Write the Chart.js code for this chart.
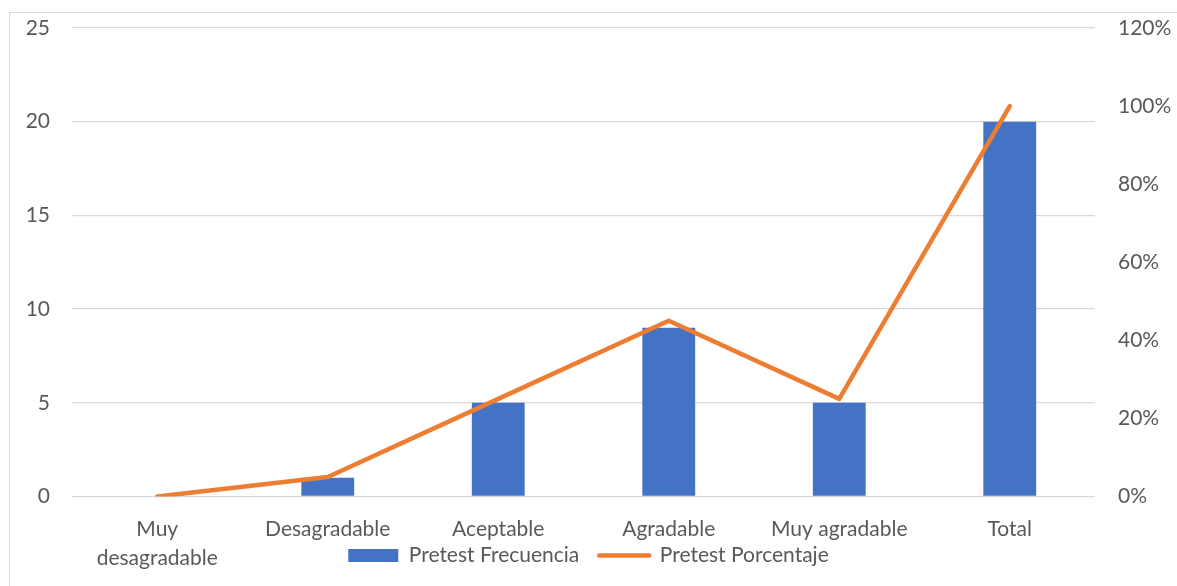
<!DOCTYPE html>
<html lang="es">
<head>
<meta charset="utf-8">
<title>Pretest</title>
<script src="https://cdn.jsdelivr.net/npm/chart.js@4.4.1/dist/chart.umd.min.js"></script>
<style>
  html, body { margin: 0; padding: 0; background: #fff; overflow: hidden; }
  #wrap { position: relative; width: 1177px; height: 586px; }
  #frame { position: absolute; left: 9px; top: 12px; width: 1300px; height: 700px;
           border: 1px solid #d9d9d9; box-sizing: border-box; }
  canvas { position: absolute; left: 0; top: 0; }
</style>
</head>
<body>
<div id="wrap">
  <div id="frame"></div>
  <canvas id="chart" width="1177" height="586"></canvas>
</div>
<script>
// Categories and series
const categories = [['Muy', 'desagradable'], 'Desagradable', 'Aceptable', 'Agradable', 'Muy agradable', 'Total'];
const frecuencia = [0, 1, 5, 9, 5, 20];
const porcentaje = [0, 0.05, 0.25, 0.45, 0.25, 1.00];

// Axis ticks
const leftTicks = [0, 5, 10, 15, 20, 25];
const rightTicks = [0, 0.2, 0.4, 0.6, 0.8, 1.0, 1.2];
const rightTickLabels = ['0%', '20%', '40%', '60%', '80%', '100%', '120%'];

const seriesNames = ['Pretest Frecuencia', 'Pretest Porcentaje'];

const BLUE = '#4472C4';
const ORANGE = '#ED7D31';
const TEXT = '#595959';
const GRID = '#d9d9d9';
const FONT = { family: 'Lato', size: 21 };

// The legend shares the row of the second label line, so it takes no
// layout space and is placed after layout.
const LEGEND_TOP = 525;
const legendOverlay = {
  id: 'legendOverlay',
  afterLayout(chart) {
    const lg = chart.legend;
    if (!lg) return;
    const h = 50;
    lg.top = LEGEND_TOP;
    lg.bottom = LEGEND_TOP + h;
    lg.height = h;
  }
};

// Keep the value axes from pushing the plot area down.
const trimAxisPadding = (axis, width) => {
  axis.width = width;
  axis.paddingTop = 6;
  axis.paddingBottom = 6;
};

new Chart(document.getElementById('chart'), {
  data: {
    labels: categories,
    datasets: [
      {
        type: 'bar',
        label: seriesNames[0],
        data: frecuencia,
        backgroundColor: BLUE,
        yAxisID: 'y',
        order: 1,
        categoryPercentage: 1,
        barPercentage: 0.31
      },
      {
        type: 'line',
        label: seriesNames[1],
        data: porcentaje,
        borderColor: ORANGE,
        backgroundColor: ORANGE,
        borderWidth: 4.5,
        borderCapStyle: 'round',
        borderJoinStyle: 'round',
        pointRadius: 0,
        tension: 0,
        yAxisID: 'y1',
        order: 0
      }
    ]
  },
  plugins: [legendOverlay],
  options: {
    responsive: false,
    animation: false,
    layout: { padding: { top: 28, left: 0, right: 0, bottom: 0 } },
    plugins: {
      tooltip: { enabled: false },
      legend: {
        position: 'bottom',
        maxHeight: 1,
        labels: {
          font: FONT,
          color: TEXT,
          usePointStyle: true,
          pointStyleWidth: 50,
          boxHeight: 13,
          padding: 20,
          generateLabels: () => [
            { text: seriesNames[0], fillStyle: BLUE, strokeStyle: BLUE, lineWidth: 0,
              pointStyle: 'rect', datasetIndex: 0, hidden: false, fontColor: TEXT },
            { text: seriesNames[1], fillStyle: ORANGE, strokeStyle: ORANGE, lineWidth: 4.5,
              lineCap: 'round', pointStyle: 'line', datasetIndex: 1, hidden: false, fontColor: TEXT }
          ]
        }
      }
    },
    scales: {
      x: {
        grid: { display: false },
        border: { display: false },
        ticks: { font: { ...FONT, lineHeight: 1.38 }, color: TEXT, padding: 10, maxRotation: 0, autoSkip: false },
        afterFit: (axis) => { axis.height = 88.5; }
      },
      y: {
        position: 'left',
        min: 0, max: 25,
        afterBuildTicks: (axis) => { axis.ticks = leftTicks.map(v => ({ value: v })); },
        grid: { color: GRID, lineWidth: 1.3, drawTicks: false },
        border: { display: false },
        ticks: { font: FONT, color: TEXT, padding: 22 },
        afterFit: (axis) => trimAxisPadding(axis, 72)
      },
      y1: {
        position: 'right',
        min: 0, max: 1.2,
        afterBuildTicks: (axis) => { axis.ticks = rightTicks.map(v => ({ value: v })); },
        grid: { display: false, drawTicks: false },
        border: { display: false },
        ticks: {
          font: FONT, color: TEXT, padding: 23,
          callback: (v, i) => rightTickLabels[i]
        },
        afterFit: (axis) => trimAxisPadding(axis, 82)
      }
    }
  }
});
</script>
</body>
</html>
